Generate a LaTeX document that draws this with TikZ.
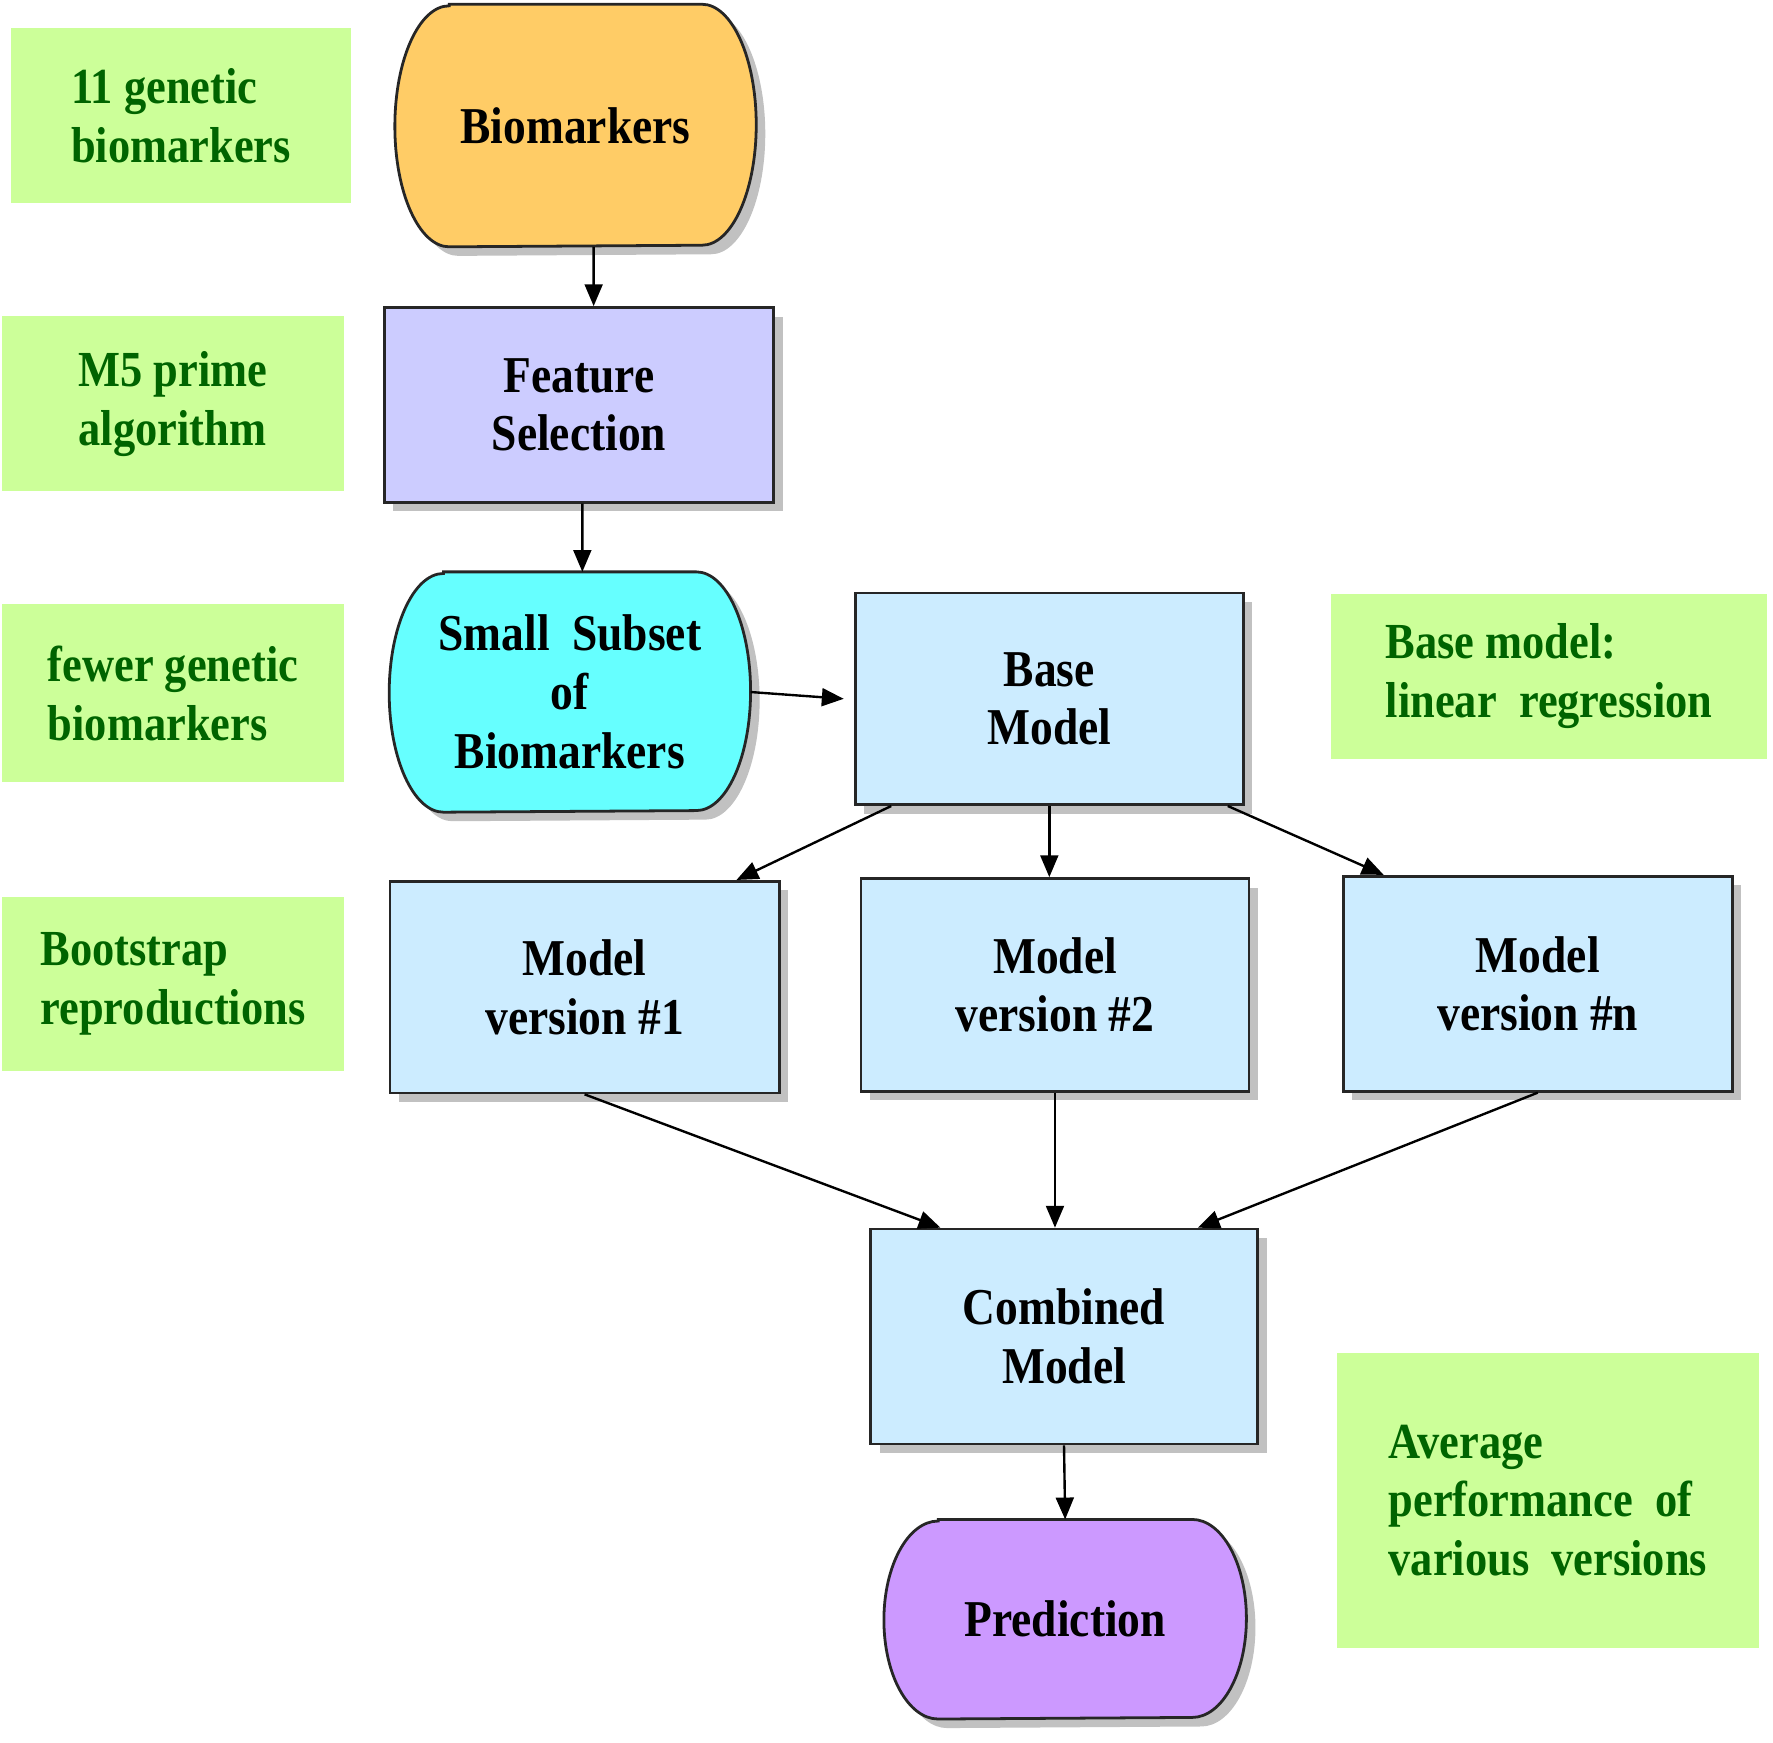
\documentclass[tikz,border=0pt]{standalone}
\usepackage{fontspec}
\setmainfont{Liberation Serif}[FakeStretch=0.88]
\usepackage{tikz}
\usetikzlibrary{arrows.meta,calc,shadows,backgrounds}

\definecolor{notefill}{HTML}{CCFF99}
\definecolor{notetext}{RGB}{0,100,0}
\definecolor{orangefill}{HTML}{FFCC66}
\definecolor{lavfill}{HTML}{CCCCFF}
\definecolor{cyanfill}{HTML}{66FFFF}
\definecolor{bluefill}{HTML}{CCECFF}
\definecolor{purplefill}{HTML}{CC99FF}

% barrel outline round a named node: flat top and bottom, bulging sides
\def\barrel[#1](#2)(#3){\draw[#1] ($(#2.north west)+(0.48cm,0)$) -- ($(#2.north east)+(-0.48cm,0)$) arc[start angle=90, end angle=-90, x radius=0.48cm, y radius=#3] -- ($(#2.south west)+(0.48cm,0)$) arc[start angle=270, end angle=90, x radius=0.48cm, y radius=#3] -- cycle;}

\tikzset{
  shade/.style={drop shadow={shadow xshift=0.08cm, shadow yshift=-0.08cm, opacity=0.35, fill=black!70}},
  outline/.style={draw=black!85, line width=0.7pt},
  label/.style={align=center, inner sep=2pt, font=\fontsize{13}{14.8}\selectfont\bfseries},
  box/.style={label, outline, shade},
  note/.style={fill=notefill, text=notetext, align=left, inner sep=2pt,
    font=\fontsize{12.7}{14.8}\selectfont\bfseries},
  arr/.style={-{Triangle[length=5.5pt,width=4.5pt]}, line width=0.6pt, black}
}

\begin{document}
\begin{tikzpicture}[x=0.01cm, y=-0.01cm]
			%%%%% START %%%%%
			\useasboundingbox (0,0) rectangle (1568,1541);
			
			% notes on the side
			\node[note, minimum width=3.00cm, minimum height=1.55cm] (noteA) at (160, 102) {11 genetic\\biomarkers};
			\node[note, minimum width=3.03cm, minimum height=1.55cm] (noteB) at (153, 357) {M5 prime\\algorithm};
			\node[note, minimum width=3.03cm, minimum height=1.57cm] (noteC) at (153, 613) {fewer genetic\\biomarkers};
			\node[note, minimum width=3.03cm, minimum height=1.54cm] (noteD) at (153, 870) {Bootstrap\\reproductions};
			\node[note, minimum width=3.85cm, minimum height=1.46cm] (noteE) at (1370, 598) {Base model:\\linear\ \ regression};
			\node[note, minimum width=3.73cm, minimum height=2.60cm] (noteF) at (1369, 1327) {Average\\performance\ \ of\\various\ \ versions};
			
			% main flow
			\node[label, minimum width=3.18cm, minimum height=2.13cm] (bio) at (509, 111) {Biomarkers};
			\node[box, fill=lavfill, minimum width=3.44cm, minimum height=1.72cm] (feat) at (512, 358) {Feature\\Selection};
			\node[label, minimum width=3.18cm, minimum height=2.11cm] (subset) at (504, 612) {Small\ \ Subset\\of\\Biomarkers};
			\node[box, fill=bluefill, minimum width=3.43cm, minimum height=1.87cm] (base) at (928, 618) {Base\\Model};
			
			\node[box, fill=bluefill, minimum width=3.44cm, minimum height=1.87cm] (mvA) at (517, 873) {Model\\version \#1};
			\node[box, fill=bluefill, minimum width=3.43cm, minimum height=1.88cm] (mvB) at (933, 871) {Model\\version \#2};
			\node[box, fill=bluefill, minimum width=3.44cm, minimum height=1.90cm] (mvN) at (1360, 870) {Model\\version \#n};
			
			\node[box, fill=bluefill, minimum width=3.42cm, minimum height=1.90cm] (comb) at (941, 1182) {Combined\\Model};
			\node[label, minimum width=3.19cm, minimum height=1.75cm] (pred) at (942, 1432) {Prediction};
			
			\begin{scope}[on background layer]
				\barrel[outline, shade, fill=orangefill](bio)(1.065cm)
				\barrel[outline, shade, fill=cyanfill](subset)(1.055cm)
				\barrel[outline, shade, fill=purplefill](pred)(0.875cm)
			\end{scope}
			
			% connectors
			\draw[arr] ([xshift=0.16cm]bio.south) -- ([xshift=0.13cm]feat.north);
			\draw[arr] ([xshift=0.03cm]feat.south) -- ([xshift=0.11cm]subset.north);
			\draw[arr] (subset.east) -- ([xshift=-0.09cm]base.west);
			
			\draw[arr] ([xshift=0.33cm]base.south west) -- ([xshift=-0.39cm]mvA.north east);
			\draw[arr] (base.south) -- (base.south |- mvB.north);
			\draw[arr] ([xshift=-0.15cm]base.south east) -- ([xshift=0.37cm]mvN.north west);
			
			\draw[arr] (mvA.south) -- ([xshift=0.63cm]comb.north west);
			\draw[arr] (mvB.south) -- (mvB.south |- comb.north);
			\draw[arr] (mvN.south) -- ([xshift=-0.54cm]comb.north east);
			
			\draw[arr] (comb.south) -- (pred.north);
			
			%%%%% END %%%%%
\end{tikzpicture}
\end{document}
